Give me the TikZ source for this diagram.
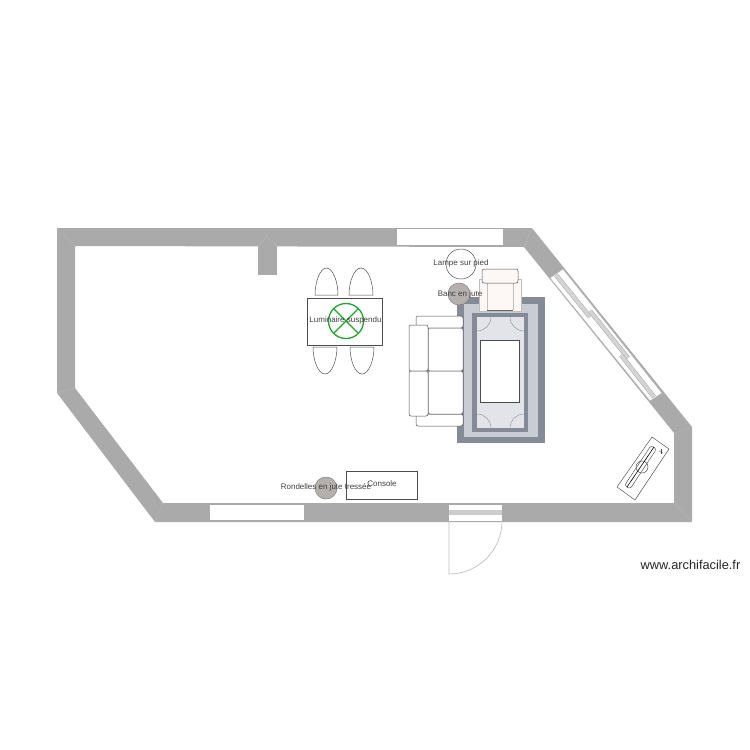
\documentclass[tikz,border=0pt]{standalone}
\usepackage{fontspec}
\setmainfont{Liberation Sans}
\definecolor{wallgray}{HTML}{AAAAAA}
\definecolor{seamgray}{HTML}{BBBBBB}
\definecolor{rugdark}{HTML}{858A97}
\definecolor{ruglight}{HTML}{C9CCD3}
\definecolor{rugpale}{HTML}{E2E4E9}
\definecolor{juteround}{HTML}{B5B0AE}
\definecolor{armchair}{HTML}{FDF8F6}
\definecolor{lampgreen}{HTML}{22A52E}
\begin{document}
\begin{tikzpicture}[x=1pt,y=-1pt]
	\tikzstyle{every node}+=[inner sep=0pt,font=\fontsize{8}{9}\selectfont,text=black!75]
	\tikzstyle{furn}=[draw=black!70,line width=0.5pt,fill=white]
	\tikzstyle{opening}=[fill=white,draw=wallgray!85,line width=0.6pt]
	\tikzstyle{pane}=[draw=wallgray,line width=0.5pt,double=black!17,double distance=3.5pt]
	\tikzstyle{seam}=[draw=seamgray,line width=0.3pt]
	\tikzstyle{rugarc}=[draw=black!40,line width=0.5pt]
	\useasboundingbox (0,0) rectangle (750,750);
	% walls
	\fill [wallgray,even odd rule] (57,228) -- (532,228) -- (692,427) -- (692,522) -- (155,522) -- (57,393) -- cycle
		(75,246) -- (524,247) -- (674,433) -- (674,503) -- (163,503) -- (75,388) -- cycle;
	\fill [wallgray] (258,246) rectangle (277,275);
	\draw [seam] (57,228) -- (75,246);
	\draw [seam] (532,228) -- (524,247);
	\draw [seam] (692,427) -- (674,433);
	\draw [seam] (692,522) -- (674,503);
	\draw [seam] (155,522) -- (163,503);
	\draw [seam] (57,393) -- (75,388);
	\draw [seam] (267,228) -- (267,237) -- (258,246);
	\draw [seam] (267,237) -- (277,246);
	% windows
	\draw [opening,draw=none] (397,229) rectangle (503,245);
	\draw [opening,draw=none] (210,505) rectangle (304,520);
	\draw [opening] (563,269) -- (662,393) -- (650,401) -- (550,278) -- cycle;
	\draw [pane] (556,275) -- (590,317);
	\draw [pane] (590,311) -- (628,358);
	\draw [pane] (621,355) -- (654,397);
	% door
	\draw [opening,draw=none] (449,505) rectangle (502,521);
	\fill [black!20] (449,510) rectangle (502,515);
	\draw [wallgray!75,line width=0.7pt] (449,521) -- (449,574) arc (90:0:53);
	% table and chairs
	\draw [furn] (315,295) .. controls (315,282) and (320,268) .. (326.5,268) .. controls (333,268) and (338,282) .. (338,295) -- cycle;
	\draw [furn] (349,295) .. controls (349,282) and (354,268) .. (361,268) .. controls (368,268) and (373,282) .. (373,295) -- cycle;
	\draw [furn] (313,347) .. controls (313,360) and (318,374) .. (325,374) .. controls (332,374) and (337,360) .. (337,347) -- cycle;
	\draw [furn] (350,347) .. controls (350,360) and (355,374) .. (362,374) .. controls (369,374) and (374,360) .. (374,347) -- cycle;
	\draw [furn] (307,298) rectangle (382,345);
	\draw [lampgreen,line width=1.3pt] (346,321) circle (17.5);
	\draw [lampgreen,line width=1.3pt] (333.6,308.6) -- (358.4,333.4);
	\draw [lampgreen,line width=1.3pt] (358.4,308.6) -- (333.6,333.4);
	\node (luminaire) at (345.5,320) {Luminaire suspendu};
	% rug
	\fill [rugdark] (457,297) rectangle (545,443);
	\fill [ruglight] (464,304) rectangle (538,437);
	\fill [rugdark] (472,313) rectangle (528,432);
	\fill [rugpale] (477,317) rectangle (524,428);
	\draw [rugarc] (491,317) arc (0:90:14);
	\draw [rugarc] (510,317) arc (180:90:14);
	\draw [rugarc] (491,428) arc (0:-90:14);
	\draw [rugarc] (510,428) arc (180:270:14);
	\draw [furn,fill=white] (480,340) rectangle (519,402);
	% armchair
	\fill [armchair] (479,279) rectangle (521,311);
	\draw [black!25,line width=0.4pt] (479,311) -- (479,279) -- (521,279) -- (521,311) -- cycle;
	\draw [black!25,line width=0.4pt] (487,283) -- (487,310);
	\draw [black!25,line width=0.4pt] (513,283) -- (513,310);
	\draw [black!60,line width=0.5pt] (487,310) -- (513,310);
	\draw [furn,fill=armchair,rounded corners=2pt] (482,269) rectangle (518,283);
	% sofa
	\draw [furn,rounded corners=2pt] (416,316) rectangle (463,328);
	\draw [furn,rounded corners=2pt] (416,414) rectangle (463,426);
	\draw [furn,rounded corners=2pt] (428,328) rectangle (463,371);
	\draw [furn,rounded corners=2pt] (428,371) rectangle (463,414);
	\draw [furn,rounded corners=2pt] (409,325) rectangle (428,371);
	\draw [furn,rounded corners=2pt] (409,371) rectangle (428,416);
	% lamp and round mats
	\draw [furn,fill=none] (461,264) circle (15);
	\draw [draw=black!50,fill=juteround,line width=0.5pt] (459,294) circle (11);
	\draw [draw=black!50,fill=juteround,line width=0.5pt] (326,488) circle (11);
	\node (lampe) at (461,263) {Lampe sur pied};
	\node (banc) at (460,294) {Banc en jute};
	% console
	\draw [furn,fill=none] (346,471) rectangle (417,499);
	\node (rondelles) at (326,487) {Rondelles en jute tressée};
	\node (console) at (382,484) {Console};
	% stove
	\draw [furn,line width=0.45pt] (652,437) -- (669,449) -- (635,500) -- (617,487) -- cycle;
	\draw [furn,line width=0.45pt,fill=none] (642,467) circle (6);
	\draw [furn,line width=0.45pt,fill=none,rounded corners=2.5pt] (651,445.5) -- (656.5,449) -- (630,489) -- (624.5,485.5) -- cycle;
	\draw [black,line width=0.6pt] (654,447) -- (627,487);
	\draw [black!70,line width=0.4pt] (659,451) -- (663,453);
	\draw [black!70,line width=0.4pt] (661,449) -- (661,454);
	\node [font=\fontsize{12.8}{14}\selectfont,text=black!85] (credit) at (690.5,565) {www.archifacile.fr};
\end{tikzpicture}
\end{document}
